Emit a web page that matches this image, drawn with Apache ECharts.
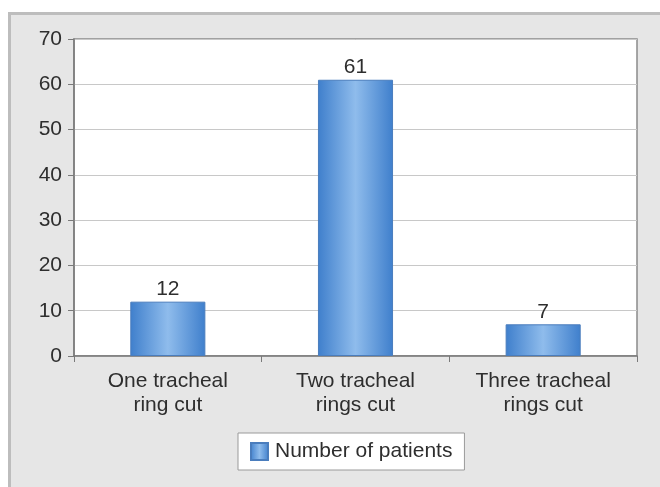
<!DOCTYPE html>
<html><head><meta charset="utf-8">
<script src="https://cdn.jsdelivr.net/npm/echarts@6/dist/echarts.min.js"></script>
<style>html,body{margin:0;padding:0;background:#fff}#c{width:660px;height:487px}</style>
</head><body><div id="c"></div>
<script>
const categories = ['One tracheal\nring cut', 'Two tracheal\nrings cut', 'Three tracheal\nrings cut'];
const patients = [12, 61, 7];
const seriesName = 'Number of patients';
const yTicks = {min: 0, max: 70, interval: 10};

const chart = echarts.init(document.getElementById('c'), null, {renderer: 'canvas'});
const barGrad = new echarts.graphic.LinearGradient(0, 0, 1, 0, [
  {offset: 0, color: '#3f7fcc'},
  {offset: 0.5, color: '#8fbcec'},
  {offset: 1, color: '#3f7fcc'}
]);
const FONT = 'Liberation Sans, Arial, sans-serif';
chart.setOption({
  animation: false,
  backgroundColor: '#fff',
  graphic: [
    {type: 'rect', left: 8, top: 12, shape: {width: 652, height: 475}, style: {fill: '#e6e6e6'}, z: -10},
    {type: 'rect', left: 8, top: 12, shape: {width: 652, height: 3}, style: {fill: '#bdbdbd'}, z: -9},
    {type: 'rect', left: 8, top: 12, shape: {width: 3, height: 475}, style: {fill: '#bdbdbd'}, z: -9}
  ],
  textStyle: {fontFamily: FONT},
  grid: {left: 74, top: 39, width: 563, height: 317, show: true, backgroundColor: '#fff', borderColor: '#8a8a8a', borderWidth: 1.5},
  legend: {
    data: [seriesName], bottom: 17, left: 238,
    backgroundColor: '#fff', borderColor: '#9a9a9a', borderWidth: 1,
    padding: [8, 12, 8, 12], itemWidth: 17, itemHeight: 17, itemGap: 10,
    icon: 'rect',
    textStyle: {fontSize: 21, color: '#2e2e2e', fontFamily: FONT, padding: [0, 0, 0, 2]}
  },
  xAxis: {
    type: 'category', data: categories,
    axisLine: {lineStyle: {color: '#7a7a7a', width: 1.5}},
    axisTick: {show: true, length: 6, lineStyle: {color: '#7a7a7a'}},
    axisLabel: {fontSize: 21, color: '#2e2e2e', lineHeight: 24, margin: 13}
  },
  yAxis: {
    type: 'value', min: yTicks.min, max: yTicks.max, interval: yTicks.interval,
    axisLine: {show: true, lineStyle: {color: '#7a7a7a', width: 1.5}},
    axisTick: {show: true, length: 6, lineStyle: {color: '#7a7a7a'}},
    axisLabel: {fontSize: 21, color: '#2e2e2e', margin: 12},
    splitLine: {lineStyle: {color: '#c8c8c8', width: 1}}
  },
  series: [{
    name: seriesName, type: 'bar', data: patients, barWidth: '40%',
    itemStyle: {color: barGrad, borderColor: '#4a7dbd', borderWidth: 1},
    label: {show: true, position: 'top', fontSize: 21, color: '#2e2e2e', distance: 2}
  }]
});
</script></body></html>
